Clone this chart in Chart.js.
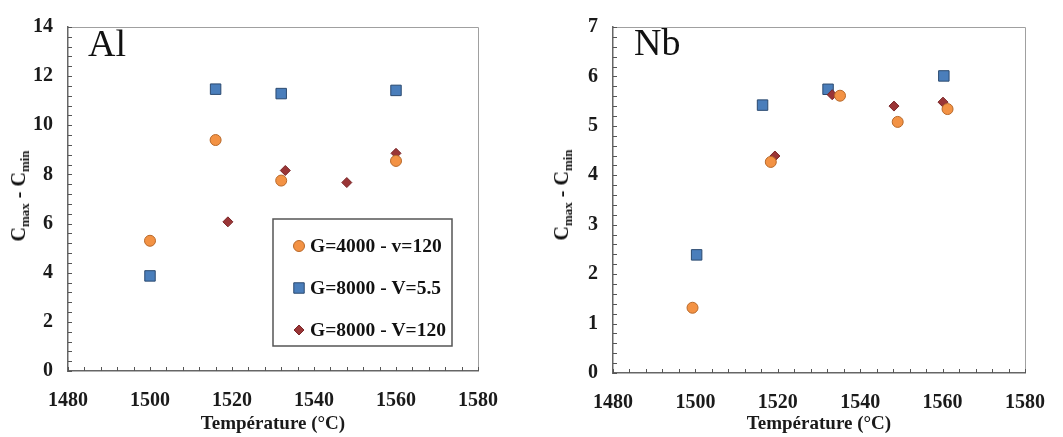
<!DOCTYPE html>
<html>
<head>
<meta charset="utf-8">
<script src="https://cdn.jsdelivr.net/npm/chart.js@4/dist/chart.umd.min.js"></script>
<style>
    body { margin: 0; background: #fff; }
    .panel { position: absolute; top: 0; height: 437px; }
    .ytitle {
        position: absolute;
        transform: translate(-50%, -50%) rotate(-90deg);
        white-space: nowrap;
        font: bold 20px "Liberation Serif", serif;
        color: #111;
    }
    .ytitle sub { font-size: 13px; vertical-align: -4px; }
</style>
</head>
<body>
<div class="panel" style="left:0;width:530px">
    <canvas id="alChart" width="530" height="437"></canvas>
    <div class="ytitle" style="left:20px;top:196px">C<sub>max</sub> - C<sub>min</sub></div>
</div>
<div class="panel" style="left:530px;width:533px">
    <canvas id="nbChart" width="533" height="437"></canvas>
    <div class="ytitle" style="left:33px;top:195px">C<sub>max</sub> - C<sub>min</sub></div>
</div>
<script>
// series names
const seriesLabels = ['G=4000 - v=120', 'G=8000 - V=5.5', 'G=8000 - V=120']

// Al panel
const alTemp4000 = [1500, 1516, 1532, 1560]
const alVal4000 = [5.3, 9.4, 7.75, 8.55]
const alTemp8000v55 = [1500, 1516, 1532, 1560]
const alVal8000v55 = [3.87, 11.47, 11.29, 11.42]
const alTemp8000v120 = [1519, 1533, 1548, 1560]
const alVal8000v120 = [6.07, 8.16, 7.67, 8.86]

// Nb panel
const nbTemp4000 = [1499.3, 1518.3, 1535.1, 1549.1, 1561.2]
const nbVal4000 = [1.32, 4.27, 5.61, 5.08, 5.34]
const nbTemp8000v55 = [1500.3, 1516.3, 1532.2, 1560.3]
const nbVal8000v55 = [2.39, 5.42, 5.74, 6.01]
const nbTemp8000v120 = [1519.3, 1533.2, 1548.2, 1560.1]
const nbVal8000v120 = [4.39, 5.63, 5.4, 5.48]

const xTicks = [1480, 1500, 1520, 1540, 1560, 1580]

const toPoints = (xs, ys) => xs.map((x, i) => ({ x: x, y: ys[i] }))

const serif = '"Liberation Serif", "Times New Roman", serif'

const makeDatasets = (t1, v1, t2, v2, t3, v3) => [
    {
        label: seriesLabels[0],
        data: toPoints(t1, v1),
        pointStyle: 'circle',
        pointRadius: 5.5,
        backgroundColor: '#F39244',
        borderColor: '#B8692A',
        borderWidth: 1,
        order: 0,
    },
    {
        label: seriesLabels[1],
        data: toPoints(t2, v2),
        pointStyle: 'rect',
        pointRadius: 7.4,
        backgroundColor: '#4A7EBB',
        borderColor: '#2B4A70',
        borderWidth: 1,
        order: 2,
    },
    {
        label: seriesLabels[2],
        data: toPoints(t3, v3),
        pointStyle: 'rectRot',
        pointRadius: 5,
        backgroundColor: '#9A3536',
        borderColor: '#7A2628',
        borderWidth: 1,
        order: 1,
    },
]

// border on top/right, small inside ticks, element label
const decorPlugin = {
    id: 'decor',
    beforeDatasetsDraw(chart, args, opts) {
        const { ctx, chartArea: a } = chart
        const x = chart.scales.x
        const y = chart.scales.y
        ctx.save()
        ctx.strokeStyle = '#a0a0a0'
        ctx.lineWidth = 1
        ctx.beginPath()
        ctx.moveTo(a.left, Math.round(a.top) + 0.5)
        ctx.lineTo(Math.round(a.right) + 0.5, Math.round(a.top) + 0.5)
        ctx.lineTo(Math.round(a.right) + 0.5, a.bottom)
        ctx.stroke()

        ctx.strokeStyle = '#555'
        ctx.beginPath()
        for (let i = 0; i <= 25; i++) {
            const px = Math.round(x.getPixelForValue(x.min + i * 4)) + 0.5
            ctx.moveTo(px, a.bottom)
            ctx.lineTo(px, a.bottom - 4)
        }
        const ystep = (y.max - y.min) / 35
        for (let i = 0; i <= 35; i++) {
            const py = Math.round(y.getPixelForValue(y.min + i * ystep)) + 0.5
            ctx.moveTo(a.left, py)
            ctx.lineTo(a.left + 4, py)
        }
        ctx.stroke()

        ctx.fillStyle = '#111'
        ctx.font = '38px ' + serif
        ctx.textBaseline = 'alphabetic'
        ctx.fillText(opts.label, opts.labelX, opts.labelY)
        ctx.restore()
    },
    afterDatasetsDraw(chart, args, opts) {
        if (!opts.box) return
        const { ctx } = chart
        const b = opts.box
        ctx.save()
        ctx.fillStyle = '#fff'
        ctx.fillRect(b.x, b.y, b.w, b.h)
        ctx.strokeStyle = '#555'
        ctx.lineWidth = 1.5
        ctx.strokeRect(b.x, b.y, b.w, b.h)
        chart.data.datasets.forEach((ds, i) => {
            const cy = b.y + 27 + i * 42
            ctx.fillStyle = ds.backgroundColor
            ctx.strokeStyle = ds.borderColor
            ctx.lineWidth = 1
            Chart.helpers.drawPoint(ctx, {
                pointStyle: ds.pointStyle,
                radius: ds.pointRadius,
                rotation: 0,
                borderWidth: 1,
            }, b.x + 26, cy)
            ctx.fillStyle = '#111'
            ctx.font = 'bold 19.5px ' + serif
            ctx.textBaseline = 'middle'
            ctx.fillText(ds.label, b.x + 37, cy + 1)
        })
        ctx.restore()
    },
}

const makeChart = (canvasId, datasets, yMax, yStep, padRight, yWidth, xHeight, decor) => {
    return new Chart(document.getElementById(canvasId), {
        type: 'scatter',
        data: { datasets: datasets },
        plugins: [decorPlugin],
        options: {
            responsive: false,
            animation: false,
            layout: { padding: { left: 0, top: 15, right: padRight, bottom: 0 } },
            plugins: {
                legend: { display: false },
                tooltip: { enabled: false },
                decor: decor,
            },
            scales: {
                x: {
                    type: 'linear',
                    min: 1480,
                    max: 1580,
                    afterBuildTicks: (scale) => {
                        scale.ticks = xTicks.map((v) => ({ value: v }))
                    },
                    afterFit: (scale) => {
                        scale.height = xHeight
                    },
                    grid: { display: false, drawTicks: false },
                    border: { display: true, color: '#666', width: 1.5 },
                    ticks: {
                        padding: 18,
                        color: '#1a1a1a',
                        callback: (v) => String(v),
                        font: { family: serif, size: 20, weight: 'bold' },
                    },
                    title: {
                        display: true,
                        text: 'Température (°C)',
                        color: '#1a1a1a',
                        font: { family: serif, size: 19, weight: 'bold' },
                        padding: { top: 2, bottom: 2 },
                    },
                },
                y: {
                    min: 0,
                    max: yMax,
                    afterFit: (scale) => {
                        scale.width = yWidth
                    },
                    grid: { display: false, drawTicks: false },
                    border: { display: true, color: '#666', width: 1.5 },
                    ticks: {
                        stepSize: yStep,
                        padding: 15,
                        color: '#1a1a1a',
                        font: { family: serif, size: 20, weight: 'bold' },
                    },
                },
            },
        },
    })
}

makeChart(
    'alChart',
    makeDatasets(alTemp4000, alVal4000, alTemp8000v55, alVal8000v55, alTemp8000v120, alVal8000v120),
    14, 2, 52, 68, 66,
    { label: 'Al', labelX: 88, labelY: 56, box: { x: 273, y: 219, w: 179, h: 127 } }
)

makeChart(
    'nbChart',
    makeDatasets(nbTemp4000, nbVal4000, nbTemp8000v55, nbVal8000v55, nbTemp8000v120, nbVal8000v120),
    7, 1, 33, 83, 64,
    { label: 'Nb', labelX: 104, labelY: 55 }
)
</script>
</body>
</html>
